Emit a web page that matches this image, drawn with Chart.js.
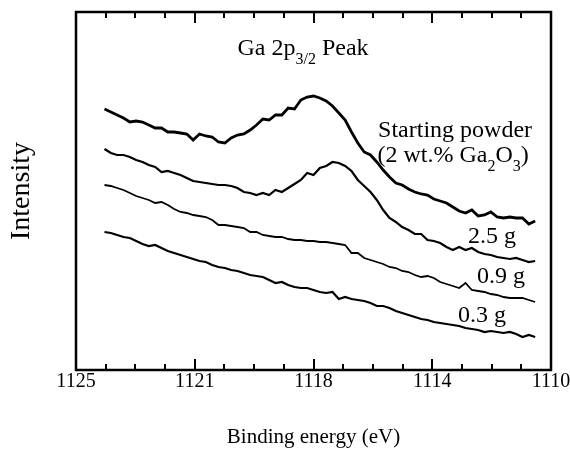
<!DOCTYPE html>
<html>
<head>
<meta charset="utf-8">
<script src="https://cdn.jsdelivr.net/npm/chart.js@4.4.1/dist/chart.umd.min.js"></script>
<style>
  html, body { margin: 0; padding: 0; background: #fff; }
</style>
</head>
<body>
<canvas id="xps" width="570" height="452"></canvas>
<script>
// binding energy (eV), read every 0.2 eV off the spectra
const energy = [
  1124.1, 1123.9, 1123.7, 1123.5, 1123.3, 1123.1, 1122.9, 1122.7, 1122.5, 1122.3,
  1122.1, 1121.9, 1121.7, 1121.5, 1121.3, 1121.1, 1120.9, 1120.7, 1120.5, 1120.3,
  1120.1, 1119.9, 1119.7, 1119.5, 1119.3, 1119.1, 1118.9, 1118.7, 1118.5, 1118.3,
  1118.1, 1117.9, 1117.7, 1117.5, 1117.3, 1117.1, 1116.9, 1116.7, 1116.5, 1116.3,
  1116.1, 1115.9, 1115.7, 1115.5, 1115.3, 1115.1, 1114.9, 1114.7, 1114.5, 1114.3,
  1114.1, 1113.9, 1113.7, 1113.5, 1113.3, 1113.1, 1112.9, 1112.7, 1112.5, 1112.3,
  1112.1, 1111.9, 1111.7, 1111.5, 1111.3, 1111.1, 1110.9, 1110.7, 1110.5
];

// intensity (arbitrary units, curves offset as in the figure)
const startingPowder = [
  261, 258, 255, 252, 248, 249, 248, 245, 242, 242,
  238, 238, 237, 236, 230, 236, 234, 233, 228, 227,
  232, 235, 236, 240, 245, 251, 250, 255, 255, 262,
  261, 270, 273, 274, 272, 269, 264, 257, 250, 238,
  227, 218, 215, 208, 200, 193, 187, 185, 181, 178,
  176, 175, 171, 169, 167, 163, 159, 157, 160, 154,
  155, 158, 153, 152, 153, 152, 152, 146, 149
];
const load25g = [
  221, 217, 215, 215, 213, 210, 208, 205, 203, 198,
  199, 197, 195, 192, 189, 188, 187, 186, 185, 185,
  184, 182, 178, 177, 175, 177, 175, 180, 178, 182,
  186, 190, 197, 195, 202, 204, 208, 207, 204, 199,
  190, 184, 178, 170, 160, 152, 148, 143, 140, 136,
  136, 130, 129, 127, 123, 120, 123, 120, 122, 118,
  116, 115, 113, 112, 111, 112, 110, 108, 109
];
const load09g = [
  185, 184, 182, 180, 177, 174, 172, 170, 167, 168,
  165, 161, 158, 157, 155, 154, 153, 150, 145, 145,
  144, 143, 142, 138, 138, 135, 134, 133, 133, 131,
  130, 130, 129, 129, 128, 128, 127, 126, 125, 117,
  117, 112, 110, 108, 106, 103, 102, 99, 98, 95,
  93, 94, 92, 88, 86, 84, 82, 87, 80, 79,
  78, 76, 75, 73, 72, 72, 72, 70, 68
];
const load03g = [
  138, 137, 135, 133, 132, 129, 126, 124, 125, 122,
  119, 117, 115, 113, 111, 109, 108, 105, 103, 102,
  100, 99, 97, 95, 94, 93, 90, 87, 88, 85,
  83, 82, 82, 80, 78, 77, 78, 71, 73, 71,
  70, 69, 67, 64, 64, 62, 59, 57, 55, 53,
  51, 50, 48, 47, 46, 45, 44, 42, 41, 40,
  38, 39, 38, 37, 38, 36, 33, 35, 33
];

// x axis: 4 labelled intervals, 3 minor ticks in each
const majorTicks = [1125, 1121.25, 1117.5, 1113.75, 1110];
const majorLabels = ['1125', '1121', '1118', '1114', '1110'];
const minorPerMajor = 4;

const SERIF = '"Liberation Serif", "Times New Roman", serif';
const PLOT_H = 358;  // chart area height in px
const MAJOR_LEN = 11;
const MINOR_LEN = 6;

// text inside the plot, placed in data units (left edge, baseline)
const notes = [
  { e: 1119.9, i: 315, parts: [['Ga 2p'], ['3/2', true], [' Peak']] },
  { e: 1115.46, i: 233, parts: [['Starting powder']] },
  { e: 1115.48, i: 208, parts: [['(2 wt.% Ga'], ['2', true], ['O'], ['3', true], [')']] },
  { e: 1112.62, i: 127, parts: [['2.5 g']] },
  { e: 1112.34, i: 87, parts: [['0.9 g']] },
  { e: 1112.94, i: 48, parts: [['0.3 g']] }
];

const xTicks = [];
for (let i = 0; i < majorTicks.length - 1; i++) {
  const from = majorTicks[i], to = majorTicks[i + 1];
  for (let j = 0; j < minorPerMajor; j++) {
    xTicks.push(j === 0 ? from : from + (to - from) * j / minorPerMajor);
  }
}
xTicks.push(majorTicks[majorTicks.length - 1]);

// grid lines are dashed so only a short piece shows at the top and bottom edge
function tickDash(ctx) {
  const len = ctx.tick && majorTicks.includes(ctx.tick.value) ? MAJOR_LEN : MINOR_LEN;
  return [len, PLOT_H - 2 * len, len, 1000];
}

// box round the plot, then the labels inside it
const decorPlugin = {
  id: 'decor',
  afterDraw(chart) {
    const ctx = chart.ctx;
    const area = chart.chartArea;
    const xs = chart.scales.x;
    const ys = chart.scales.y;
    ctx.save();
    ctx.strokeStyle = '#000';
    ctx.lineWidth = 2.5;
    ctx.strokeRect(area.left, area.top, area.right - area.left, area.bottom - area.top);

    ctx.fillStyle = '#000';
    ctx.textBaseline = 'alphabetic';
    ctx.textAlign = 'left';
    notes.forEach(n => {
      let px = xs.getPixelForValue(n.e);
      const py = ys.getPixelForValue(n.i);
      n.parts.forEach(([text, sub]) => {
        ctx.font = (sub ? '16px ' : '24px ') + SERIF;
        ctx.fillText(text, px, sub ? py + 9 : py);
        px += ctx.measureText(text).width;
      });
    });
    ctx.restore();
  }
};

function spectrum(vals, width) {
  return {
    data: energy.map((e, i) => ({ x: e, y: vals[i] })),
    borderColor: '#000',
    borderWidth: width,
    pointRadius: 0,
    tension: 0,
    fill: false
  };
}

new Chart(document.getElementById('xps'), {
  type: 'line',
  data: {
    datasets: [
      spectrum(startingPowder, 2.8),
      spectrum(load25g, 2.2),
      spectrum(load09g, 1.8),
      spectrum(load03g, 2.2)
    ]
  },
  options: {
    responsive: false,
    animation: false,
    layout: { padding: { top: 12, right: 19, left: 0, bottom: 0 } },
    plugins: { legend: { display: false }, tooltip: { enabled: false } },
    scales: {
      x: {
        type: 'linear',
        reverse: true,
        min: 1110,
        max: 1125,
        grid: {
          display: true,
          drawOnChartArea: true,
          drawTicks: false,
          color: '#000',
          lineWidth: 2
        },
        border: { display: false, dash: tickDash },
        afterFit(scale) {
          scale.height = 82;
          scale.paddingLeft = 0;
          scale.paddingRight = 0;
        },
        afterBuildTicks(scale) {
          scale.ticks = xTicks.map(v => ({ value: v }));
        },
        ticks: {
          autoSkip: false,
          maxRotation: 0,
          padding: 0,
          color: '#000',
          font: { family: SERIF, size: 20 },
          callback(value, index, ticks) {
            const k = majorTicks.indexOf(ticks[index].value);
            return k >= 0 ? majorLabels[k] : '';
          }
        },
        title: {
          display: true,
          text: 'Binding energy (eV)',
          color: '#000',
          font: { family: SERIF, size: 21 },
          padding: { top: 0, bottom: 2 }
        }
      },
      y: {
        min: 0,
        max: 358,
        grid: { display: false },
        border: { display: false },
        ticks: { display: false },
        afterFit(scale) { scale.width = 76; },
        title: {
          display: true,
          text: 'Intensity',
          color: '#000',
          font: { family: SERIF, size: 28 },
          padding: { top: 5, bottom: 0 }
        }
      }
    }
  },
  plugins: [decorPlugin]
});
</script>
</body>
</html>
